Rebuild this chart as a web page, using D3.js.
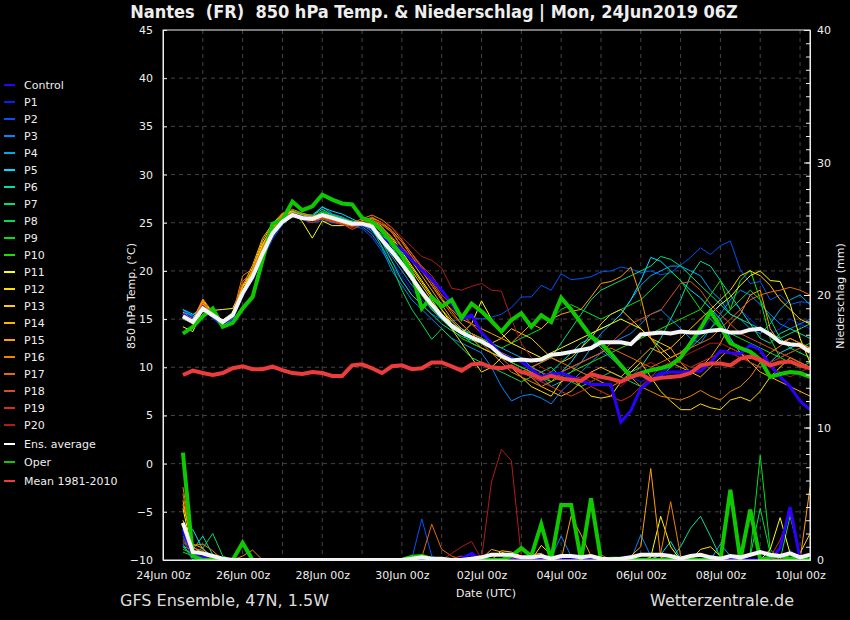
<!DOCTYPE html>
<html>
<head>
<meta charset="utf-8">
<script src="https://cdn.jsdelivr.net/npm/d3@7"></script>
<style>
  body { margin: 0; background: #000; }
  svg { display: block; }
  text { font-family: "DejaVu Sans", sans-serif; fill: #eee; }
</style>
</head>
<body>
<div id="chart"></div>
<script>
// 6-hourly steps from 24Jun2019 12z, 64 steps
const firstStep = Date.UTC(2019, 5, 24, 12);
const stepCount = 64;

// 850 hPa temperature (°C)
const tempControl = [15.5,14.8,16.2,15.3,14.5,15.3,17.6,19.3,21.7,23.8,25.1,25.9,25.6,25.4,25.8,25.5,25.2,24.9,24.8,24.5,23.3,22.9,22.2,21.1,20.1,19.1,18.0,16.6,15.0,15.4,13.6,12.5,11.3,10.9,10.6,9.8,9.0,9.3,9.4,9.0,8.6,8.2,8.2,8.2,4.3,5.5,7.8,8.6,9.3,9.5,9.5,9.6,9.6,10.5,11.7,11.5,11.4,12.3,11.8,10.2,9.0,8.0,6.5,5.6];
const tempP1 = [15.8,15.1,16.3,15.6,14.6,15.2,17.5,19.0,21.4,23.6,25.2,26.0,25.6,25.3,25.7,25.3,25.1,24.8,24.7,24.3,22.5,21.0,19.5,18.0,17.0,16.0,15.2,14.5,14.0,13.5,13.0,12.0,11.0,10.0,9.5,9.0,8.5,9.0,9.5,10.0,10.5,11.0,11.5,11.0,10.0,9.0,8.5,9.0,9.5,10.0,11.0,12.0,13.5,15.0,16.5,17.0,16.0,15.0,14.0,13.5,14.0,15.0,14.5,14.0];
const tempP2 = [15.9,15.3,16.0,15.1,14.1,15.0,17.3,19.1,21.2,23.3,24.8,25.7,25.3,25.0,25.2,25.0,24.9,24.7,24.4,23.5,22.0,20.5,19.0,17.5,16.5,15.5,15.0,14.8,15.0,15.2,15.0,15.2,15.5,16.2,17.3,17.3,18.5,18.0,19.7,19.1,19.2,19.4,19.9,20.0,20.4,20.2,19.8,20.0,19.6,19.8,20.6,21.4,22.4,21.7,22.6,23.1,20.1,18.7,18.9,17.0,17.5,16.5,16.8,16.7];
const tempP3 = [16.0,15.2,16.2,15.5,14.3,15.2,17.8,19.5,21.9,23.5,25.0,25.9,25.7,25.3,26.0,25.6,25.2,25.0,24.6,23.8,22.3,20.0,18.5,17.0,16.0,15.0,14.0,13.0,12.5,12.0,11.5,10.0,8.0,6.5,7.0,7.2,6.8,6.2,7.5,8.5,9.5,10.5,11.5,12.5,13.0,13.5,14.5,15.5,16.0,15.0,14.0,13.0,12.5,14.0,15.5,17.0,18.0,17.5,16.5,15.5,14.5,14.0,14.5,15.0];
const tempP4 = [15.7,15.4,16.4,15.3,14.2,15.1,17.4,19.3,21.6,23.8,25.3,26.1,25.8,25.6,26.7,25.9,25.6,25.1,24.8,24.1,23.0,21.5,20.0,18.5,17.5,16.5,15.5,14.5,14.0,13.5,13.0,12.5,12.0,11.5,11.0,10.0,9.0,8.0,8.5,9.5,10.5,12.0,13.5,14.5,15.5,17.0,18.5,19.5,20.0,20.5,20.5,20.0,19.5,18.0,17.0,15.5,15.0,14.0,13.5,14.5,16.0,17.0,17.5,16.5];
const tempP5 = [16.0,15.5,16.1,15.2,14.4,15.5,17.9,19.6,22.0,24.0,25.4,26.2,25.9,25.8,26.6,26.2,25.9,25.4,24.9,24.4,23.5,22.0,20.5,19.0,17.5,16.0,15.0,14.0,13.5,13.0,12.5,12.0,11.5,11.0,10.5,10.0,9.5,8.5,9.5,10.5,12.0,13.5,14.0,14.5,15.5,17.0,19.0,21.4,21.0,20.0,19.0,18.0,17.2,16.1,15.0,13.0,11.5,10.5,10.0,10.5,11.5,12.0,12.5,12.0];
const tempP6 = [15.4,14.9,16.3,15.6,14.8,15.6,17.6,19.3,21.7,23.7,25.1,25.9,25.5,25.7,26.4,25.8,25.5,25.0,24.8,24.5,23.8,22.5,21.0,19.5,18.0,16.5,15.5,14.5,13.5,12.5,12.0,11.5,11.0,10.5,10.0,9.5,9.0,9.5,10.5,11.5,12.5,13.0,12.0,11.0,10.0,9.5,10.0,11.5,13.0,15.0,17.0,19.5,21.0,20.5,19.0,17.5,16.0,14.5,13.0,12.5,13.5,14.0,13.5,13.0];
const tempP7 = [15.2,14.6,15.9,15.3,14.5,15.3,17.4,19.1,21.5,23.6,25.2,26.0,25.6,25.4,25.9,25.7,25.4,25.1,24.9,24.3,23.0,21.0,19.0,17.5,16.5,15.5,14.5,13.8,13.2,12.8,12.5,12.0,11.5,11.0,10.5,10.0,10.5,11.0,12.5,14.0,15.5,17.0,18.0,18.5,19.0,19.5,20.0,20.5,21.5,21.2,20.5,19.5,18.5,17.5,16.5,15.5,15.0,14.5,14.0,13.5,13.0,13.5,14.0,14.5];
const tempP8 = [15.1,14.5,15.8,15.2,14.6,15.4,17.6,19.4,21.8,23.9,25.4,26.1,25.7,25.5,26.2,25.8,25.4,25.2,25.0,24.4,22.5,20.5,18.0,16.0,14.5,12.9,14.0,13.0,12.0,11.0,10.5,10.0,9.5,9.0,8.5,9.0,9.5,10.0,9.0,8.5,8.0,8.5,9.0,9.5,9.0,8.5,8.0,8.5,9.0,10.0,11.0,12.0,13.0,14.0,15.0,16.0,17.0,18.0,17.0,15.0,13.0,12.0,11.5,11.0];
const tempP9 = [15.3,14.8,16.0,15.4,14.7,15.5,17.8,19.7,22.1,24.2,25.5,26.3,25.9,25.6,26.1,25.7,25.3,25.0,24.8,24.6,23.6,22.2,20.8,19.4,18.0,16.5,15.5,14.5,13.8,13.5,13.0,12.5,12.0,12.5,13.0,13.5,14.0,15.0,16.0,16.5,16.0,15.5,15.0,15.5,16.0,16.5,17.0,18.0,19.0,20.0,19.0,17.5,16.0,15.0,14.0,13.5,13.0,12.5,12.0,11.5,11.0,11.5,12.0,12.5];
const tempP10 = [15.0,14.6,15.9,15.5,14.9,15.7,17.9,19.8,22.2,24.3,25.6,26.2,25.8,25.4,25.9,25.6,25.2,24.9,24.7,24.6,23.4,22.0,20.5,19.0,17.5,16.0,15.0,14.0,13.0,12.5,12.0,11.5,11.0,10.5,10.0,9.5,9.0,8.5,9.0,9.5,10.0,10.5,11.0,11.5,12.0,12.5,13.0,13.5,14.0,14.5,15.0,15.5,16.0,17.5,19.0,16.0,19.0,20.1,17.0,13.0,11.0,10.5,10.0,10.5];
const tempP11 = [14.2,13.7,16.0,15.9,16.0,16.1,18.3,20.0,22.6,24.6,25.9,26.2,25.1,23.4,25.2,24.7,24.7,24.8,24.9,25.0,24.5,23.5,22.0,20.5,19.0,17.5,16.0,14.5,13.5,14.5,16.9,15.0,13.5,12.5,12.0,11.5,11.0,11.5,12.0,12.5,13.0,13.5,14.0,14.5,15.0,14.5,14.0,13.0,12.0,11.0,11.5,12.5,14.0,15.5,16.5,17.3,18.5,19.5,20.0,19.0,18.9,16.6,13.0,10.5];
const tempP12 = [15.5,14.9,17.0,15.6,14.7,15.3,17.8,20.1,22.8,24.5,25.7,26.1,25.6,25.3,25.6,25.3,25.0,24.8,24.9,24.9,24.0,23.0,21.5,20.0,18.5,17.0,15.5,14.0,12.5,11.0,9.5,10.0,11.0,10.0,9.0,8.0,7.5,7.0,8.5,9.0,8.0,7.0,6.8,7.0,8.5,9.5,10.5,9.0,7.5,6.5,5.6,5.6,6.2,5.8,5.6,6.6,6.9,6.5,7.5,9.0,10.0,11.0,10.5,10.0];
const tempP13 = [15.4,14.7,16.6,15.4,14.5,15.2,17.9,20.3,23.1,24.8,25.8,26.0,25.4,25.2,25.4,25.1,24.9,24.9,25.2,25.3,24.6,23.3,21.8,20.3,18.8,17.3,16.0,14.8,13.8,13.0,12.5,12.5,13.0,14.0,13.5,13.0,12.0,11.0,10.5,11.0,12.0,13.0,14.5,15.5,16.0,15.0,14.0,13.0,12.5,12.0,13.0,14.0,15.0,16.0,17.0,18.0,19.5,20.0,19.5,18.5,17.0,16.0,15.0,14.5];
const tempP14 = [15.6,14.8,16.8,15.5,14.6,15.4,18.4,20.6,23.4,24.9,26.0,26.2,25.6,25.5,25.8,25.4,25.1,24.8,25.0,25.4,24.8,24.0,22.5,21.0,19.5,18.0,16.5,15.0,14.0,13.0,12.0,11.5,11.0,10.0,9.5,9.0,8.0,7.5,7.0,7.5,8.5,9.5,10.0,9.5,9.0,10.0,11.0,12.0,11.5,10.5,10.0,9.5,9.0,10.0,11.0,12.0,11.5,10.5,9.5,9.0,8.5,8.0,7.5,7.0];
const tempP15 = [15.7,15.0,16.9,15.3,14.4,15.3,18.6,19.9,22.5,24.4,25.6,26.1,25.8,25.6,25.9,25.5,25.0,24.7,25.2,25.5,25.0,24.2,23.0,21.5,20.0,18.5,17.0,16.0,15.0,14.5,14.0,13.5,13.0,12.5,13.5,14.5,14.0,15.0,15.5,15.8,16.0,17.3,18.7,18.9,19.4,20.4,17.3,13.0,11.5,12.0,10.5,9.5,10.0,11.0,12.5,14.5,15.5,17.5,18.0,14.0,12.5,13.0,12.5,12.0];
const tempP16 = [15.5,14.9,17.1,15.7,14.8,15.5,19.5,20.2,22.4,24.7,25.9,26.4,26.0,25.7,25.9,25.7,25.3,25.0,25.4,25.8,25.3,24.5,23.2,21.8,20.3,18.8,17.2,15.8,14.5,13.5,12.5,11.5,10.5,9.5,9.0,8.5,8.0,8.5,9.5,10.0,9.5,9.0,8.5,8.0,8.5,9.0,8.0,7.5,7.0,6.8,6.6,7.0,7.6,7.0,6.6,7.5,8.0,9.0,10.5,11.5,12.2,13.0,12.5,12.0];
const tempP17 = [15.3,14.7,16.7,15.5,14.9,15.6,18.9,20.0,22.3,24.3,25.6,26.0,25.7,25.3,25.6,25.3,25.0,24.6,25.1,25.6,25.0,24.0,22.5,21.2,20.0,18.5,17.0,15.5,14.5,13.5,13.0,12.0,11.0,10.0,9.5,10.0,10.5,11.0,10.5,10.0,10.5,11.0,11.5,12.0,11.5,11.0,10.5,10.0,10.5,11.0,11.5,12.0,12.5,13.0,14.0,15.0,16.0,17.0,17.5,17.8,18.0,18.3,18.0,17.5];
const tempP18 = [15.4,14.8,16.5,15.3,14.6,15.5,18.0,19.6,22.0,24.1,25.4,25.9,25.5,25.2,25.5,25.2,24.9,24.3,24.8,25.2,24.8,24.0,23.0,21.8,20.5,19.0,17.5,16.5,15.5,14.5,13.5,12.5,11.5,11.0,10.5,10.0,9.5,9.0,9.5,10.0,10.5,11.0,11.5,12.5,13.5,14.5,15.0,15.5,15.9,17.3,18.7,18.9,18.0,16.5,15.5,14.5,13.5,13.0,12.5,12.0,11.5,11.0,10.5,10.0];
const tempP19 = [15.2,14.6,16.4,15.4,14.7,15.4,17.7,19.5,21.9,24.0,25.3,25.8,25.4,25.0,25.4,25.1,24.8,24.5,24.8,25.1,24.5,23.5,22.5,21.5,20.5,19.5,18.0,16.5,15.5,14.5,13.5,12.5,11.0,10.0,9.5,9.0,8.5,8.0,7.5,7.0,7.5,8.0,7.5,7.0,6.5,7.0,8.0,9.0,10.0,10.5,10.5,10.0,10.5,11.0,11.5,11.5,11.0,10.5,10.0,10.5,11.0,11.5,12.0,11.5];
const tempP20 = [15.1,14.5,16.2,15.2,14.6,15.3,17.6,19.3,21.6,23.8,25.2,25.9,25.6,25.3,25.7,25.4,25.2,25.0,25.1,25.3,25.0,24.5,23.5,22.5,21.5,21.1,20.3,18.2,18.0,18.4,18.7,18.0,17.9,15.0,12.5,11.0,10.0,9.5,9.0,8.8,9.0,8.5,9.0,9.0,8.0,9.0,10.0,10.5,10.0,10.5,11.0,11.5,12.0,12.5,12.5,12.0,11.5,11.0,10.5,10.0,9.5,9.0,9.5,10.0];
const tempEnsAvg = [15.3,14.7,16.1,15.4,14.7,15.4,17.7,19.4,21.8,23.9,25.1,25.8,25.5,25.4,25.8,25.5,25.2,24.9,24.9,24.6,23.2,22.0,20.7,19.3,17.8,16.5,15.3,14.3,13.6,13.1,12.7,12.1,11.2,10.7,10.8,10.7,10.8,11.3,11.4,11.6,11.8,12.0,12.6,12.6,12.6,12.4,13.4,13.5,13.6,13.5,13.7,13.6,13.6,13.8,13.9,13.6,13.6,13.9,14.0,13.4,12.6,12.4,12.3,11.6];
const tempOper = [13.5,14.2,15.3,16.1,14.2,14.6,16.1,17.3,21.1,24.9,25.3,27.2,26.3,26.7,27.9,27.4,27.0,26.9,25.5,25.1,24.2,22.9,21.6,19.7,16.1,17.3,16.3,17.0,15.1,16.6,15.8,14.8,13.7,14.9,15.6,14.2,15.4,14.7,17.2,16.0,14.6,13.2,12.5,11.4,10.2,9.0,9.4,9.7,9.9,10.2,11.0,12.5,14.0,15.8,14.2,12.5,12.0,11.6,10.8,9.0,9.3,9.5,9.4,9.0];
const tempClim = [9.2,9.65,9.4,9.2,9.4,9.9,10.1,9.8,9.8,10.06,9.7,9.4,9.3,9.5,9.4,9.1,9.1,10.2,10.3,9.9,9.4,10.1,10.2,9.8,9.9,10.5,10.5,10.1,9.65,10.3,10.4,10.0,9.9,10.1,9.5,9.3,8.8,9.1,8.8,8.7,8.6,9.3,9.0,8.8,8.5,9.0,9.3,8.7,8.9,9.0,9.1,9.4,10.2,10.4,10.4,10.2,10.9,11.1,10.8,10.2,10.5,10.6,10.2,9.9];

// precipitation (mm)
const rainControl = [2.3,0.4,0.2,0,0,0,0,0,0,0,0,0,0,0,0,0,0,0,0,0,0,0,0,0,0,0,0,0,0.1,0.5,0,0,0,0,0,0,0,0,0,0,0,0,0,0,0,0,0,0,0,0,0,0,0,0,0,0,0,0,0,0,0.9,4.0,0.1,0];
const rainP1 = [2.0,0.3,0,0,0,0,0,0,0,0,0,0,0,0,0,0,0,0,0,0,0,0,0,0,0,0,0,0,0,0,0,0,0,0,0,0,0,0,0,0,0,0,0,0,0,0,0,0,0,0,0,0,0,0,0,0,0,0,0,0,0,0.8,0,0];
const rainP2 = [1.5,0.2,0,0,0,0,0,0,0,0,0,0,0,0,0,0,0,0,0,0,0,0,0,0.1,3.1,0.3,0,0,0,0,0,0,0,0,0,0,0,0,0,0,0,0,0,0,0,0,0,0,0,0,0,0,0,0,0,0.4,0,0,0,0,0,0,0,0];
const rainP3 = [1.8,0.4,0,0,0,0,0,0,0,0,0,0,0,0,0,0,0,0,0,0,0,0,0,0,0,0,0,0,0,0,0,0,0,0,0,0,0,0.2,1.8,0.3,0,0,0,0,0,0,1.9,0.3,0,0,0,0,0,0,0,0,0,0,0,0,0,0,0,0];
const rainP4 = [1.2,0,0.3,0,0,0,0,0,0,0,0,0,0,0,0,0,0,0,0,0,0,0,0,0,0,0,0,0,0,0,0,0,0,0,0,0,0,0,0,0,0,0,0,0,0,0,0,0,0,0,0,0,0,0,1.2,0.3,0,0,0,0,0,0,0,0];
const rainP5 = [2.5,2.3,0.8,0.3,0,0,0,0,0,0,0,0,0,0,0,0,0,0,0,0,0,0,0,0,0,0,0,0,0,0,0,0,0,0,0,0,0,0,0,0,0,0,0,0,0,0,0,0,0.4,1.4,0.1,0,0,0,0,0,0,0,0,0,0,0,0,0];
const rainP6 = [1.0,0.8,1.8,0.4,0,0,0,0,0,0,0,0,0,0,0,0,0,0,0,0,0,0,0,0,0,0,0,0,0,0,0,0,0,0,0,0,0,0,0,0,0,0,0,0,0,0,0,0,0,0,1.0,2.4,3.3,1.8,0.2,0,0,0,0,0,0,0,0,0];
const rainP7 = [1.3,1.0,0.5,0,0,0,0,0,0,0,0,0,0,0,0,0,0,0,0,0,0,0,0,0,0,0,0,0,0,0,0,0,0,0,0,0,0,0,0,0,0,0,0,0,0.2,0,0,0,0,0,0,0,0,0,0,0,0,0,0,0,0,0,0,0];
const rainP8 = [0.8,0.5,0.9,2.0,0.3,0,0,0,0,0,0,0,0,0,0,0,0,0,0,0,0,0,0,0,0,0,0,0,0,0,0,0,0,0,0,0,0,0,0,0,0,0,0,0,0,0,0,0,0,0,0,0,0,0,0,0,0,0.3,3.9,0.5,0,3.3,0.4,0];
const rainP9 = [0.6,0.3,0,0,0,0,0,0,0,0,0,0,0,0,0,0,0,0,0,0,0,0,0,0,0,0,0,0,0,0,0,0,0,0,0,0,0,0,0,0,0,0,0,0,0,0,0,0,0,0,0,0,0,0,0,0,0,0.5,7.9,0.8,0,0,0,0];
const rainP10 = [1.0,0.3,0,0,0,0,0,0,0,0,0,0,0,0,0,0,0,0,0,0,0,0,0,0,0,0,0.2,0,0,0,0,0,0,0,0,0,0,0,0,0,0,0,0,0,0,0,0,0,0,0,0,0,0,0,0,0,0,0,0,0,0,0,0,0];
const rainP11 = [3.9,0.5,0,0,0,0,0,0,0,0,0,0,0,0,0,0,0,0,0,0,0,0,0,0,0,0,0,0,0,0,0,0,0,0,0,0,0,0,0,0,0,0,0,0,0,0,0,0.2,3.3,1.0,0,0,0,0,0,0,0,0,0,0.8,3.2,0.5,0.1,0];
const rainP12 = [3.0,0.6,0,0,0,0,0,0,0,0,0,0,0,0,0,0,0,0,0,0,0,0,0,0,0,0,0,0,0,0,0,0,0,0,0,0,1.1,0.4,0,0,0,0,0,0,0,0,0,0,0,0,0,0,0.8,1.0,0.3,0,0,0,0,0,0,0,0,0];
const rainP13 = [2.7,0.4,0,0,0,0,0,0,0,0,0,0,0,0,0,0,0,0,0,0,0,0,0,0,0,0,0,0,0,0,0,0,0.7,0.6,0.3,0,0,0,0,0,0,0,0,0,0,0,0,0,0,0,0,0,0,0,0,0,0,0,0,0,0,0,0.5,2.0];
const rainP14 = [4.5,1.0,0.5,0,0,0,0,0,0,0,0,0,0,0,0,0,0,0,0,0,0,0,0,0,0,0,0,0,0,0.2,0.1,0.8,0.6,0.3,0,0.4,0.5,0,0,0,0,0,0,0,0,0,0,0,0,0,0,0,0,0,0,0,0,0,0,0,0,0,0,0];
const rainP15 = [4.2,1.2,0.9,0,0,0,0,0,0,0,0,0,0,0,0,0,0,0,0,0,0,0,0,0,0,0,0,0,0,0,0,0,0,0,0,0,0,0,0,3.3,1.9,0.3,0,0,0,0.3,1.0,6.9,0.2,0,0,0,0,0,0,0,0,0,0,0,0,0,0,5.5];
const rainP16 = [5.5,1.1,1.2,0.7,0,0,0.3,0.75,0,0,0,0,0,0,0,0,0,0,0,0,0,0,0,0,0,0,0,0,0,0,0,0,0,0,0,0,0,0,0,0,0,0,0.2,0,0,0,0,0,0.5,4.4,0.3,0,0,0,0,0,0,0,0,0,0,0,0,0];
const rainP17 = [5.0,0.9,0.7,0,0,0,0,0,0,0,0,0,0,0,0,0,0,0,0,0,0,0,0,0,0.2,2.7,0.8,0.3,0,0,0,0,0,0.1,0.2,0.1,0,0,0,0,0,0,0.4,0,0,0,0,0,0,0,0,0,0,0,0,0,0,0,0,0,0,0,0,0];
const rainP18 = [2.2,0.6,0.4,0,0,0,0,0,0,0,0,0,0,0,0,0,0,0,0,0,0,0,0,0,0,0,0,0.1,0.3,0,0,0,0,0,0,0,0,0,0,0,0,0,0,0,0,0,0,0,0,0,0,0,0,0,0,0,0,0,0,0,0,0,0,0];
const rainP19 = [1.6,0.5,0,0,0,0,0,0,0,0,0,0,0,0,0,0,0,0,0,0,0,0,0,0,0,0,0,0,0,0,0,0,0,0,0,0,0,0,0,0,0,0,0,0,0,0,0,0,0,0,0,0,0,0,0,0,0,0,0,0.2,1.5,3.5,0.1,0];
const rainP20 = [1.4,0.3,0,0,0,0,0,0,0,0,0,0,0,0,0,0,0,0,0,0,0,0,0,0,0,0,0,0.5,1.0,1.4,0.05,5.9,8.35,7.5,0.2,0,0,0,0,0,0,0,0,0,0,0,0,0,0,0,0,0,0,0,0,0,0,0,0,0,0,0,0,0];
const rainEnsAvg = [2.8,0.6,0.5,0.3,0.1,0,0,0,0,0,0,0,0,0,0,0,0,0,0,0,0,0,0,0.1,0.2,0.1,0.1,0,0,0.1,0.2,0.4,0.4,0.4,0.2,0.2,0.3,0.1,0.3,0.3,0.2,0.3,0.1,0.05,0.1,0.2,0.4,0.4,0.4,0.3,0.1,0.3,0.4,0.2,0.1,0.3,0.2,0.4,0.6,0.4,0.3,0.5,0.2,0.4];
const rainOper = [8.1,0.3,0,0,0,0,1.3,0,0,0,0,0,0,0,0,0,0,0,0,0,0,0,0,0.25,0.3,0.1,0,0,0,0,0,0,0,0.3,0.9,0.3,2.7,0,4.15,4.15,0,4.65,0,0.1,0.1,0,0,0,0,0,0,0,0,0,0,5.3,0,3.8,0,0.2,0.3,0.1,0.2,0];

const memberNames = ['Control','P1','P2','P3','P4','P5','P6','P7','P8','P9','P10','P11','P12','P13','P14','P15','P16','P17','P18','P19','P20'];
const memberColors = ['#2a00ff','#0022ff','#0052ff','#0086ff','#00aaee','#00ddff','#00e0a8','#00dc80','#00dc50','#00e020','#18e000','#ffff00','#ffe000','#ffcc00','#ffb400','#ffa000','#f08400','#e86c00','#d85020','#d0301c','#b01c1c'];
const memberTemps = [tempControl,tempP1,tempP2,tempP3,tempP4,tempP5,tempP6,tempP7,tempP8,tempP9,tempP10,tempP11,tempP12,tempP13,tempP14,tempP15,tempP16,tempP17,tempP18,tempP19,tempP20];
const memberRain = [rainControl,rainP1,rainP2,rainP3,rainP4,rainP5,rainP6,rainP7,rainP8,rainP9,rainP10,rainP11,rainP12,rainP13,rainP14,rainP15,rainP16,rainP17,rainP18,rainP19,rainP20];

const tempTicks = [-10,-5,0,5,10,15,20,25,30,35,40,45];
const rainTicks = [0,10,20,30,40];

const width = 850, height = 620;
const plotL = 163, plotR = 810, plotT = 30, plotB = 560;

const svg = d3.select('#chart').append('svg')
  .attr('width', width)
  .attr('height', height);

svg.append('rect').attr('width', width).attr('height', height).attr('fill', '#000');

const times = d3.range(stepCount).map(i => new Date(firstStep + i * 6 * 3600 * 1000));

const x = d3.scaleUtc()
  .domain([new Date(Date.UTC(2019, 5, 24, 0)), new Date(Date.UTC(2019, 6, 10, 6))])
  .range([plotL, plotR]);
const yT = d3.scaleLinear().domain([-10, 45]).range([plotB, plotT]);
const yP = d3.scaleLinear().domain([0, 40]).range([plotB, plotT]);

// grid
const allDays = d3.utcDay.range(new Date(Date.UTC(2019, 5, 24)), new Date(Date.UTC(2019, 6, 10, 1)));
const labelDays = allDays.filter((d, i) => i % 2 === 0);
svg.append('g').selectAll('line')
  .data(allDays.slice(1)).enter().append('line')
  .attr('x1', d => x(d)).attr('x2', d => x(d))
  .attr('y1', plotT).attr('y2', plotB)
  .attr('stroke', '#444').attr('stroke-dasharray', '4,4');
svg.append('g').selectAll('line')
  .data(tempTicks.filter(t => t > -10 && t < 45)).enter().append('line')
  .attr('x1', plotL).attr('x2', plotR)
  .attr('y1', d => yT(d)).attr('y2', d => yT(d))
  .attr('stroke', '#444').attr('stroke-dasharray', '4,4');

svg.append('defs').append('clipPath').attr('id', 'plot')
  .append('rect').attr('x', plotL).attr('y', plotT - 2)
  .attr('width', plotR - plotL).attr('height', plotB - plotT + 2);

const plot = svg.append('g').attr('clip-path', 'url(#plot)');

const lineT = d3.line().x((d, i) => x(times[i])).y(d => yT(d));
const lineP = d3.line().x((d, i) => x(times[i])).y(d => yP(d));

// members first, thin
for (let m = 1; m < memberTemps.length; m++) {
  plot.append('path').attr('d', lineT(memberTemps[m]))
    .attr('fill', 'none').attr('stroke', memberColors[m]).attr('stroke-width', 1);
  plot.append('path').attr('d', lineP(memberRain[m]))
    .attr('fill', 'none').attr('stroke', memberColors[m]).attr('stroke-width', 1);
}

const thick = [
  { t: tempControl, p: rainControl, color: memberColors[0], w: 3 },
  { t: tempOper, p: rainOper, color: '#10c800', w: 4 },
  { t: tempEnsAvg, p: rainEnsAvg, color: '#f4f4f4', w: 4 }
];
thick.forEach(s => {
  plot.append('path').attr('d', lineT(s.t))
    .attr('fill', 'none').attr('stroke', s.color).attr('stroke-width', s.w);
  plot.append('path').attr('d', lineP(s.p))
    .attr('fill', 'none').attr('stroke', s.color).attr('stroke-width', s.w);
});
plot.append('path').attr('d', lineT(tempClim))
  .attr('fill', 'none').attr('stroke', '#ec3c3c').attr('stroke-width', 4);

// frame
svg.append('rect').attr('x', plotL).attr('y', plotT)
  .attr('width', plotR - plotL).attr('height', plotB - plotT)
  .attr('fill', 'none').attr('stroke', '#eee').attr('stroke-width', 1);

// axes
const axL = svg.append('g').attr('transform', `translate(${plotL},0)`)
  .call(d3.axisLeft(yT).tickValues(tempTicks).tickSizeInner(-4).tickSizeOuter(0).tickPadding(10));
const axR = svg.append('g').attr('transform', `translate(${plotR},0)`)
  .call(d3.axisRight(yP).tickValues(d3.range(0, 41)).tickSizeInner(-4).tickSizeOuter(0).tickFormat(''));
const axR2 = svg.append('g').attr('transform', `translate(${plotR},0)`)
  .call(d3.axisRight(yP).tickValues(rainTicks).tickSizeInner(-6).tickSizeOuter(0).tickPadding(7));
const axB = svg.append('g').attr('transform', `translate(0,${plotB})`)
  .call(d3.axisBottom(x)
    .tickValues(labelDays)
    .tickFormat(d3.utcFormat('%d%b %Hz')).tickSize(0).tickPadding(11));
[axL, axR, axR2, axB].forEach(a => {
  a.select('.domain').attr('stroke', '#eee');
  a.selectAll('line').attr('stroke', '#eee');
  a.selectAll('text').attr('fill', '#eee').style('font-size', '11px').style('font-family', 'DejaVu Sans');
});

// titles
svg.append('text').attr('x', 434).attr('y', 18)
  .attr('text-anchor', 'middle')
  .style('white-space', 'pre')
  .style('font-family', '"DejaVu Sans Condensed", "DejaVu Sans"')
  .style('font-weight', 'bold').style('font-size', '18px')
  .text('Nantes  (FR)  850 hPa Temp. & Niederschlag | Mon, 24Jun2019 06Z');

svg.append('text').attr('transform', 'translate(135,296) rotate(-90)')
  .attr('text-anchor', 'middle').style('font-size', '11px')
  .text('850 hPa Temp. (°C)');
svg.append('text').attr('transform', 'translate(844,296) rotate(-90)')
  .attr('text-anchor', 'middle').style('font-size', '11px')
  .text('Niederschlag (mm)');
svg.append('text').attr('x', 486).attr('y', 597)
  .attr('text-anchor', 'middle').style('font-size', '11px')
  .text('Date (UTC)');
svg.append('text').attr('x', 120).attr('y', 606)
  .style('font-size', '16px').style('fill', '#ddd')
  .text('GFS Ensemble, 47N, 1.5W');
svg.append('text').attr('x', 650).attr('y', 606)
  .style('font-size', '16px').style('fill', '#ddd')
  .text('Wetterzentrale.de');

// legend
const legendItems = memberNames.map((n, i) => ({ name: n, color: memberColors[i], y: 84 + i * 17 }))
  .concat([
    { name: 'Ens. average', color: '#ffffff', y: 443 },
    { name: 'Oper', color: '#10c800', y: 461 },
    { name: 'Mean 1981-2010', color: '#ec3c3c', y: 480 }
  ]);
const legend = svg.append('g').selectAll('g')
  .data(legendItems).enter().append('g')
  .attr('transform', d => `translate(0,${d.y})`);
legend.append('line')
  .attr('x1', 4).attr('x2', 15).attr('y1', 1).attr('y2', 1)
  .attr('stroke', d => d.color).attr('stroke-width', 2);
legend.append('text')
  .attr('x', 24).attr('y', 5)
  .style('font-size', '11px')
  .text(d => d.name);
</script>
</body>
</html>
